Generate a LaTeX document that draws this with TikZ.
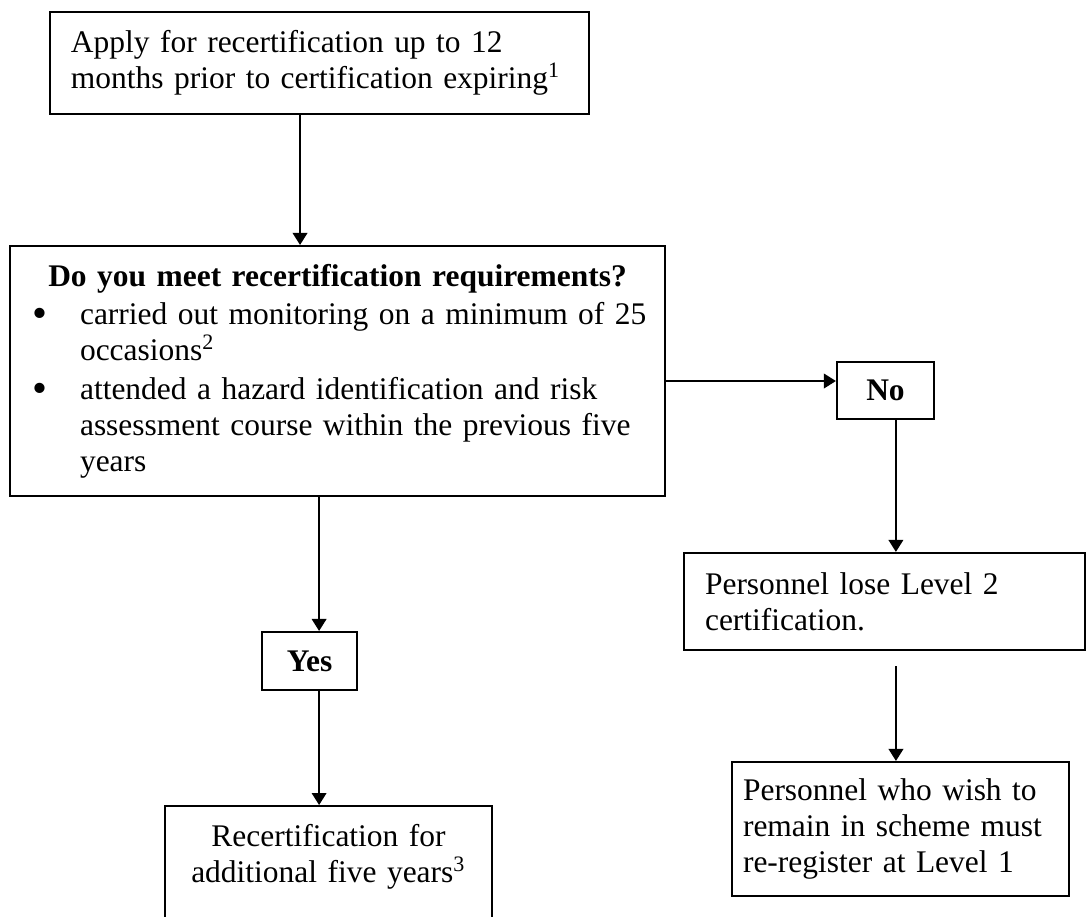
\documentclass[tikz,border=0pt]{standalone}
\usepackage{fontspec}
\setmainfont{Liberation Serif}
\usetikzlibrary{arrows.meta}

\newcommand{\reqitem}[1]{\par\vspace{1pt}\noindent\hangindent=22.5pt\hangafter=1
  \makebox[22.5pt][l]{\hspace{4.6pt}\raisebox{-1pt}{\fontsize{16}{16}\selectfont\textbullet}}#1}
\newcommand{\itembreak}{\hfill\break}

\begin{document}
\begin{tikzpicture}[
    x=0.375pt, y=-0.375pt,
    font=\fontsize{11.8}{13.5}\selectfont,
    box/.style={draw, rectangle, line width=0.8pt, inner ysep=0pt},
    answer/.style={box, font=\fontsize{11.8}{13.5}\selectfont\bfseries, minimum height=21.6pt},
    arr/.style={-{Triangle[length=4.5pt, width=5.5pt]}, line width=0.6pt}
]
    \useasboundingbox (0,0) rectangle (1089,916);

    \node[box, text width=186.4pt, inner xsep=7.9pt, minimum height=38.3pt, align=left] (apply) at (319.5,63)
        {Apply for recertification up to 12\\months prior to certification expiring\textsuperscript{1}};
    \node[box, text width=238.1pt, inner xsep=3.75pt, minimum height=93.75pt, align=left] (req) at (337.5,371)
        {{\centering\textbf{Do you meet recertification requirements?}\par}
         \reqitem{carried out monitoring on a minimum of 25\itembreak occasions\textsuperscript{2}}
         \reqitem{attended a hazard identification and risk\itembreak assessment course within the previous five\itembreak years}\par};
    \node[answer, minimum width=36.4pt] (no) at (885.5,390.5) {No};
    \node[answer, minimum width=35.6pt, minimum height=21.75pt] (yes) at (309.5,661) {Yes};
    \node[box, text width=134.6pt, inner xsep=7.9pt, minimum height=36.4pt, align=left] (lose) at (884.5,601.5)
        {Personnel lose Level 2\\certification.};
    \node[box, text width=118.1pt, inner xsep=4.1pt, minimum height=50.25pt, align=left] (rejoin) at (900.5,829)
        {Personnel who wish to\\remain in scheme must\\re-register at Level 1};
    \node[box, anchor=north, text width=114.6pt, inner xsep=4pt, inner ysep=7pt, text depth=30pt, align=center] (recert) at (328.5,805)
        {Recertification for\\additional five years\textsuperscript{3}};

    \draw[arr] ([xshift=-7.3pt]apply.south) -- ([xshift=-7.3pt]apply.south |- req.north);
    \draw[arr] ([yshift=-3.75pt]req.east) -- ([yshift=-3.75pt]req.east -| no.west);
    \draw[arr] ([xshift=3.9pt]no.south) -- ([xshift=3.9pt]no.south |- lose.north);
    \draw[arr] ([xshift=4.3pt, yshift=-5.6pt]lose.south) -- ([xshift=4.3pt]lose.south |- rejoin.north);
    \draw[arr] ([xshift=3.6pt]yes.north |- req.south) -- ([xshift=3.6pt]yes.north);
    \draw[arr] ([xshift=3.6pt]yes.south) -- ([xshift=3.6pt]yes.south |- recert.north);
\end{tikzpicture}
\end{document}
